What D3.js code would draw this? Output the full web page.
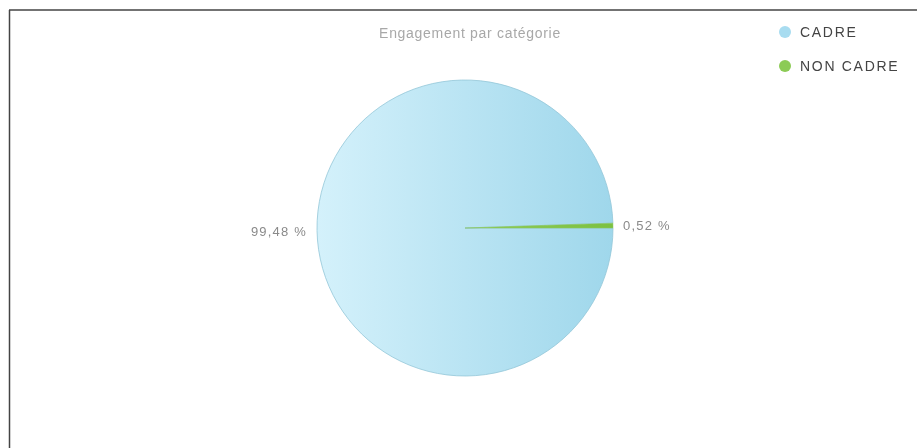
<!DOCTYPE html>
<html>
    <head>
        <meta charset="utf-8">
        <title>Engagement par catégorie</title>
        <style>
            html, body {margin: 0px;padding: 0px;overflow: hidden;background: #ffffff;font-family: "Liberation Sans", Arial, sans-serif;}
            #chart {position: fixed;top: 0;left: 0;}
            .label {fill: #8a8a8a;font-size: 13px;letter-spacing: 1.2px;}
            .legend text {fill: #444;font-size: 14px;letter-spacing: 1.7px;}
            .title {fill: #a8a8a8;font-size: 14px;letter-spacing: 0.7px;}
        </style>
    </head>
    <body>
        <div id="chart"></div>
        <script src="https://cdn.jsdelivr.net/npm/d3@7"></script>
        <script type="text/javascript">
        // Data
        var categories = ["CADRE", "NON CADRE"];
        var values = [99.48, 0.52];
        var valueLabels = ["99,48 %", "0,52 %"];
        var title = "Engagement par catégorie";

        var width = 917, height = 448;
        var cx = 465, cy = 228, radius = 148;

        var svg = d3.select("#chart").append("svg")
            .attr("width", width)
            .attr("height", height);

        // gradients for the slices (coords are local to the pie group)
        var defs = svg.append("defs");
        var grads = [
            {id: "g0", from: "#d4f1fb", to: "#9fd7eb"},
            {id: "g1", from: "#9fd46a", to: "#7cc142"}
        ];
        grads.forEach(function(g) {
            var lg = defs.append("linearGradient")
                .attr("id", g.id)
                .attr("gradientUnits", "userSpaceOnUse")
                .attr("x1", -radius).attr("y1", 0)
                .attr("x2", radius).attr("y2", 0);
            lg.append("stop").attr("offset", "0%").attr("stop-color", g.from);
            lg.append("stop").attr("offset", "100%").attr("stop-color", g.to);
        });

        // frame (top and left edges only)
        svg.append("line")
            .attr("x1", 9).attr("y1", 10).attr("x2", width).attr("y2", 10)
            .attr("stroke", "#444").attr("stroke-width", 1.5);
        svg.append("line")
            .attr("x1", 9.5).attr("y1", 10).attr("x2", 9.5).attr("y2", height)
            .attr("stroke", "#444").attr("stroke-width", 1.5);

        svg.append("text")
            .attr("class", "title")
            .attr("x", 470)
            .attr("y", 38)
            .attr("text-anchor", "middle")
            .text(title);

        var pie = d3.pie()
            .sort(null)
            .startAngle(Math.PI / 2)
            .endAngle(Math.PI / 2 + 2 * Math.PI)
            .value(function(d) { return d; });

        var arc = d3.arc().innerRadius(0).outerRadius(radius);

        var arcs = pie(values);

        var g = svg.append("g")
            .attr("transform", "translate(" + cx + "," + cy + ")");

        g.selectAll(".slice")
            .data(arcs)
          .enter().append("path")
            .attr("class", "slice")
            .attr("d", arc)
            .attr("fill", function(d, i) { return "url(#" + grads[i].id + ")"; })
            .attr("stroke", function(d, i) { return i == 0 ? "#93c6d8" : "#8cc95a"; })
            .attr("stroke-width", function(d, i) { return i == 0 ? 0.8 : 0.5; });

        // value labels outside the pie
        g.selectAll(".label")
            .data(arcs)
          .enter().append("text")
            .attr("class", "label")
            .attr("x", function(d, i) {
                var a = (d.startAngle + d.endAngle) / 2;
                return Math.sin(a) * (radius + 10);
            })
            .attr("y", function(d) {
                var a = (d.startAngle + d.endAngle) / 2;
                return -Math.cos(a) * (radius + 10) + 5;
            })
            .attr("text-anchor", function(d) {
                var a = (d.startAngle + d.endAngle) / 2;
                return Math.sin(a) < 0 ? "end" : "start";
            })
            .text(function(d, i) { return valueLabels[i]; });

        // legend
        var legend = svg.append("g").attr("class", "legend");
        var item = legend.selectAll("g")
            .data(categories)
          .enter().append("g")
            .attr("transform", function(d, i) { return "translate(785," + (32 + i * 34) + ")"; });

        item.append("circle")
            .attr("r", 6)
            .attr("fill", function(d, i) { return i == 0 ? "#a8dcf0" : "#8ccb55"; });

        item.append("text")
            .attr("x", 15)
            .attr("y", 5)
            .text(function(d) { return d; });
        </script>
    </body>
</html>
